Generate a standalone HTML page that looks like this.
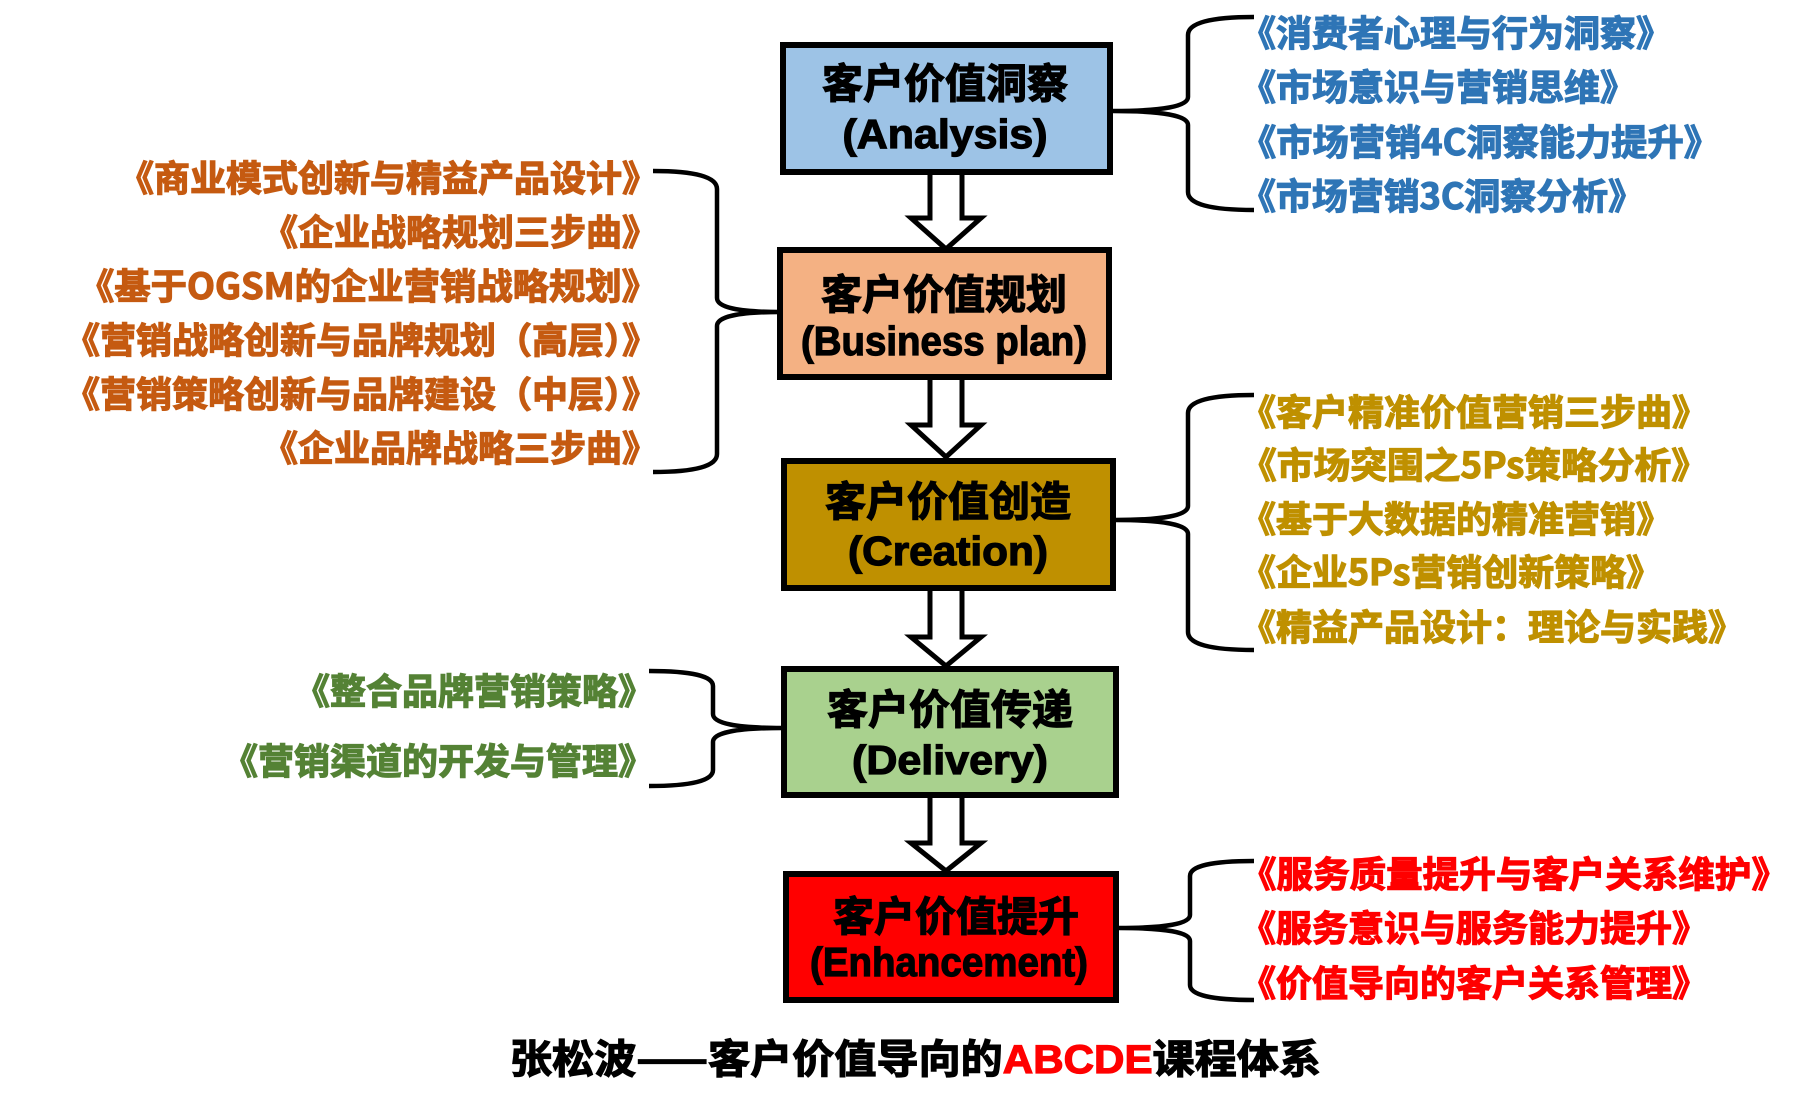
<!DOCTYPE html>
<html><head><meta charset="utf-8"><style>
html,body{margin:0;padding:0;background:#fff;}
svg{display:block;}
text{font-family:"Liberation Sans","Noto Sans CJK SC",sans-serif;font-weight:bold;}
.cn{font-family:"Noto Sans CJK SC","WenQuanYi Zen Hei",sans-serif;font-weight:bold;}
.hv{stroke-width:1.2;}
</style></head><body>
<svg width="1803" height="1095" viewBox="0 0 1803 1095" xmlns="http://www.w3.org/2000/svg">
<g stroke="#000" stroke-width="6">
<rect x="783" y="45" width="327" height="127" fill="#9dc3e6"/>
<rect x="780" y="250" width="329" height="127" fill="#f4b183"/>
<rect x="784" y="461" width="329" height="127" fill="#bf9000"/>
<rect x="784" y="669" width="332" height="126" fill="#a9d18e"/>
<rect x="786" y="874" width="330" height="126" fill="#ff0000"/>
</g>
<g stroke="#000" stroke-width="5" fill="#fff" stroke-linejoin="miter">
<path d="M930,175 L930,218 L911,218 L946,249 L981,218 L962,218 L962,175"/>
<path d="M930,380 L930,425 L911,425 L946,457 L981,425 L962,425 L962,380"/>
<path d="M930,591 L930,637 L911,637 L946,666 L981,637 L962,637 L962,591"/>
<path d="M930,798 L930,843 L911,843 L946,871 L981,843 L962,843 L962,798"/>
</g>
<g stroke="#000" stroke-width="4.5" fill="none">
<path d="M1254,17 Q1188,17 1188,35 L1188,97 Q1188,111 1113,111 Q1188,111 1188,125 L1188,192 Q1188,210 1254,210"/>
<path d="M1254,395 Q1188,395 1188,413 L1188,506 Q1188,520 1115,520 Q1188,520 1188,534 L1188,632 Q1188,650 1254,650"/>
<path d="M1254,861 Q1190,861 1190,876 L1190,915 Q1190,928 1119,928 Q1190,928 1190,941 L1190,985 Q1190,1000 1254,1000"/>
<path d="M653,171 Q717,171 717,189 L717,298 Q717,312 780,312 Q717,312 717,326 L717,454 Q717,472 653,472"/>
<path d="M649,671 Q713,671 713,686 L713,714 Q713,728 782,728 Q713,728 713,742 L713,770 Q713,786 649,786"/>
</g>
<g font-size="41" text-anchor="middle" fill="#000" stroke="#000" class="hv">
<text class="cn" x="945" y="98">客户价值洞察</text>
<text x="945" y="148" textLength="205" lengthAdjust="spacingAndGlyphs">(Analysis)</text>
<text class="cn" x="944" y="309">客户价值规划</text>
<text x="944" y="355" textLength="286" lengthAdjust="spacingAndGlyphs">(Business plan)</text>
<text class="cn" x="948" y="516">客户价值创造</text>
<text x="948" y="565" textLength="200" lengthAdjust="spacingAndGlyphs">(Creation)</text>
<text class="cn" x="950" y="724">客户价值传递</text>
<text x="950" y="774" textLength="196" lengthAdjust="spacingAndGlyphs">(Delivery)</text>
<text class="cn" x="956" y="931">客户价值提升</text>
<text x="949" y="976" textLength="278" lengthAdjust="spacingAndGlyphs">(Enhancement)</text>
</g>
<g font-size="36" fill="#2e75b6" stroke="#2e75b6" class="hv">
<text class="cn" x="1240" y="46">《消费者心理与行为洞察》</text>
<text class="cn" x="1240" y="100">《市场意识与营销思维》</text>
<text class="cn" x="1240" y="155" textLength="480" lengthAdjust="spacingAndGlyphs">《市场营销4C洞察能力提升》</text>
<text class="cn" x="1240" y="209" textLength="404" lengthAdjust="spacingAndGlyphs">《市场营销3C洞察分析》</text>
</g>
<g font-size="36" fill="#c55a11" stroke="#c55a11" class="hv" text-anchor="end">
<text class="cn" x="658" y="191">《商业模式创新与精益产品设计》</text>
<text class="cn" x="658" y="245">《企业战略规划三步曲》</text>
<text class="cn" x="658" y="299" textLength="580" lengthAdjust="spacingAndGlyphs">《基于OGSM的企业营销战略规划》</text>
<text class="cn" x="658" y="353">《营销战略创新与品牌规划（高层）》</text>
<text class="cn" x="658" y="407">《营销策略创新与品牌建设（中层）》</text>
<text class="cn" x="658" y="461">《企业品牌战略三步曲》</text>
</g>
<g font-size="36" fill="#bf9000" stroke="#bf9000" class="hv">
<text class="cn" x="1240" y="425">《客户精准价值营销三步曲》</text>
<text class="cn" x="1240" y="478" textLength="468" lengthAdjust="spacingAndGlyphs">《市场突围之5Ps策略分析》</text>
<text class="cn" x="1240" y="532">《基于大数据的精准营销》</text>
<text class="cn" x="1240" y="585" textLength="422" lengthAdjust="spacingAndGlyphs">《企业5Ps营销创新策略》</text>
<text class="cn" x="1240" y="640">《精益产品设计：理论与实践》</text>
</g>
<g font-size="36" fill="#548235" stroke="#548235" class="hv" text-anchor="end">
<text class="cn" x="654" y="704">《整合品牌营销策略》</text>
<text class="cn" x="654" y="774">《营销渠道的开发与管理》</text>
</g>
<g font-size="36" fill="#ff0000" stroke="#ff0000" class="hv">
<text class="cn" x="1240" y="887" textLength="548" lengthAdjust="spacingAndGlyphs">《服务质量提升与客户关系维护》</text>
<text class="cn" x="1240" y="941">《服务意识与服务能力提升》</text>
<text class="cn" x="1240" y="996">《价值导向的客户关系管理》</text>
</g>
<text x="510" y="1073" font-size="40" fill="#000" stroke="#000" class="hv" textLength="811" lengthAdjust="spacingAndGlyphs"><tspan class="cn">张松波——客户价值导向的</tspan><tspan fill="#ff0000" stroke="#ff0000">ABCDE</tspan><tspan class="cn">课程体系</tspan></text>
</svg>
</body></html>
